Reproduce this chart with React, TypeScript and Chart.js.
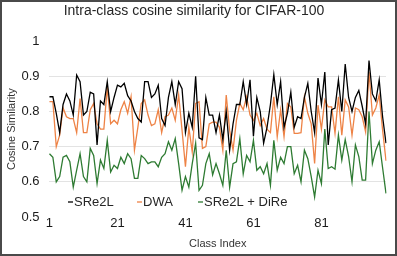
import React, { useEffect, useRef } from "react";
import { Chart, registerables } from "chart.js";

Chart.register(...registerables);

const classIndex: string[] = Array.from({ length: 100 }, (_, i) => String(i + 1));

const sre2l: number[] = [
  0.842, 0.842, 0.795, 0.74, 0.82, 0.85, 0.83, 0.79, 0.904, 0.885,
  0.79, 0.8, 0.855, 0.85, 0.705, 0.83, 0.82, 0.885, 0.8, 0.84,
  0.875, 0.87, 0.88, 0.845, 0.83, 0.8, 0.78, 0.77, 0.885, 0.885,
  0.84, 0.85, 0.875, 0.78, 0.76, 0.84, 0.885, 0.82, 0.885, 0.865,
  0.74, 0.795, 0.755, 0.9, 0.725, 0.72, 0.84, 0.79, 0.79, 0.74,
  0.79, 0.72, 0.8, 0.69, 0.765, 0.82, 0.82, 0.885, 0.82, 0.89,
  0.73, 0.84, 0.8, 0.71, 0.755, 0.82, 0.905, 0.82, 0.885, 0.755,
  0.795, 0.855, 0.755, 0.785, 0.78, 0.84, 0.88, 0.8, 0.74, 0.895,
  0.82, 0.912, 0.705, 0.805, 0.81, 0.89, 0.8, 0.935, 0.84, 0.8,
  0.84, 0.86, 0.815, 0.765, 0.945, 0.85, 0.83, 0.89, 0.785, 0.71,
];

const dwa: number[] = [
  0.828, 0.828, 0.7, 0.733, 0.81, 0.785, 0.78, 0.78, 0.74, 0.837,
  0.74, 0.74, 0.805, 0.823, 0.765, 0.75, 0.75, 0.87, 0.765, 0.775,
  0.765, 0.805, 0.828, 0.795, 0.842, 0.69, 0.755, 0.823, 0.833, 0.79,
  0.76, 0.765, 0.805, 0.74, 0.785, 0.79, 0.81, 0.775, 0.847, 0.747,
  0.643, 0.755, 0.685, 0.823, 0.828, 0.695, 0.7, 0.765, 0.77, 0.77,
  0.755, 0.69, 0.847, 0.747, 0.69, 0.775, 0.823, 0.805, 0.842, 0.79,
  0.775, 0.795, 0.76, 0.78, 0.75, 0.74, 0.842, 0.728, 0.805, 0.728,
  0.823, 0.813, 0.738, 0.738, 0.74, 0.842, 0.795, 0.765, 0.652, 0.818,
  0.75, 0.833, 0.813, 0.813, 0.738, 0.842, 0.733, 0.833, 0.813, 0.733,
  0.81, 0.805, 0.785, 0.742, 0.913, 0.79, 0.81, 0.847, 0.747, 0.66,
];

const sre2lDire: number[] = [
  0.68, 0.67, 0.6, 0.615, 0.67, 0.675, 0.657, 0.585, 0.633, 0.68,
  0.615, 0.6, 0.695, 0.675, 0.595, 0.662, 0.638, 0.718, 0.628, 0.647,
  0.638, 0.67, 0.652, 0.68, 0.666, 0.61, 0.61, 0.675, 0.666, 0.652,
  0.657, 0.657, 0.643, 0.67, 0.68, 0.714, 0.69, 0.723, 0.652, 0.576,
  0.615, 0.585, 0.652, 0.71, 0.576, 0.59, 0.652, 0.68, 0.62, 0.652,
  0.623, 0.59, 0.69, 0.585, 0.652, 0.657, 0.723, 0.623, 0.675, 0.657,
  0.718, 0.633, 0.643, 0.623, 0.652, 0.59, 0.718, 0.633, 0.67, 0.652,
  0.7, 0.7, 0.623, 0.647, 0.6, 0.69, 0.666, 0.615, 0.557, 0.633,
  0.595, 0.75, 0.638, 0.643, 0.636, 0.733, 0.662, 0.72, 0.672, 0.6,
  0.705, 0.672, 0.605, 0.605, 0.8, 0.652, 0.69, 0.714, 0.64, 0.567,
];

const seriesNames: string[] = ["SRe2L", "DWA", "SRe2L + DiRe"];
const seriesColors: string[] = ["#000000", "#EE8346", "#2E7B32"];
const xTickEvery = 20;

const FONT = "'Liberation Sans', Arial, Helvetica, sans-serif";

const legendPlugin = {
  id: "insideLegend",
  afterDraw(chart: any) {
    const ctx = chart.ctx;
    const xs = [68, 137, 198];
    const y = 202;
    ctx.save();
    ctx.font = `13px ${FONT}`;
    ctx.textBaseline = "middle";
    ctx.textAlign = "left";
    seriesNames.forEach((name, i) => {
      ctx.strokeStyle = seriesColors[i];
      ctx.lineWidth = 1.3;
      ctx.beginPath();
      ctx.moveTo(xs[i], y);
      ctx.lineTo(xs[i] + 5, y);
      ctx.stroke();
      ctx.fillStyle = "#262626";
      ctx.fillText(name, xs[i] + 6, y);
    });
    ctx.restore();
  },
};

const framePlugin = {
  id: "frame",
  beforeDraw(chart: any) {
    const ctx = chart.ctx;
    ctx.save();
    ctx.fillStyle = "#ffffff";
    ctx.fillRect(0, 0, chart.width, chart.height);
    ctx.restore();
  },
  afterDraw(chart: any) {
    const ctx = chart.ctx;
    ctx.save();
    ctx.strokeStyle = "#4a4a4a";
    ctx.lineWidth = 2;
    ctx.strokeRect(1, 1, chart.width - 2, chart.height - 2);
    ctx.restore();
  },
};

export default function App() {
  const ref = useRef<HTMLCanvasElement | null>(null);

  useEffect(() => {
    document.body.style.margin = "0";
    if (!ref.current) return;
    const values = [sre2l, dwa, sre2lDire];
    const chart = new Chart(ref.current, {
      type: "line",
      data: {
        labels: classIndex,
        datasets: seriesNames.map((name, i) => ({
          label: name,
          data: values[i],
          borderColor: seriesColors[i],
          backgroundColor: seriesColors[i],
          borderWidth: 1.3,
          pointRadius: 0,
          tension: 0,
          fill: false,
        })),
      },
      options: {
        responsive: false,
        animation: false,
        devicePixelRatio: 1,
        layout: { padding: { left: 2, right: 11, top: 0, bottom: 5.4 } },
        plugins: {
          legend: { display: false },
          tooltip: { enabled: false },
          title: {
            display: true,
            text: "Intra-class cosine similarity for CIFAR-100",
            color: "#262626",
            font: { family: FONT, size: 14, weight: "normal" },
            padding: { top: 3, bottom: 21.4 },
          },
        },
        scales: {
          x: {
            type: "category",
            offset: false,
            grid: { display: false, drawTicks: false },
            border: { display: false },
            ticks: {
              autoSkip: false,
              maxRotation: 0,
              minRotation: 0,
              padding: -1,
              color: "#1a1a1a",
              font: { family: FONT, size: 13 },
              callback: (_v: any, idx: number) => (idx % xTickEvery === 0 ? classIndex[idx] : ""),
            },
            title: {
              display: true,
              text: "Class Index",
              color: "#333",
              font: { family: FONT, size: 11 },
              padding: { top: 6.8, bottom: 0 },
            },
          },
          y: {
            min: 0.5,
            max: 1,
            grid: {
              drawTicks: false,
              lineWidth: 1,
              color: (c: any) => {
                const v = c.tick ? c.tick.value : 0;
                return Math.abs(v - 0.5) < 1e-6 || Math.abs(v - 1) < 1e-6 ? "rgba(0,0,0,0)" : "#e3e3e3";
              },
            },
            border: { display: false },
            ticks: {
              stepSize: 0.1,
              padding: 10,
              color: "#1a1a1a",
              font: { family: FONT, size: 13 },
              callback: (v: any) => String(Number(Number(v).toFixed(1))),
            },
            title: {
              display: true,
              text: "Cosine Similarity",
              color: "#333",
              font: { family: FONT, size: 11 },
              padding: { top: 3.4, bottom: -7.2 },
            },
          },
        },
      },
      plugins: [framePlugin, legendPlugin],
    });
    return () => chart.destroy();
  }, []);

  return (
    <div style={{ width: 397, height: 256 }}>
      <canvas ref={ref} width={397} height={256} style={{ display: "block" }} />
    </div>
  );
}
